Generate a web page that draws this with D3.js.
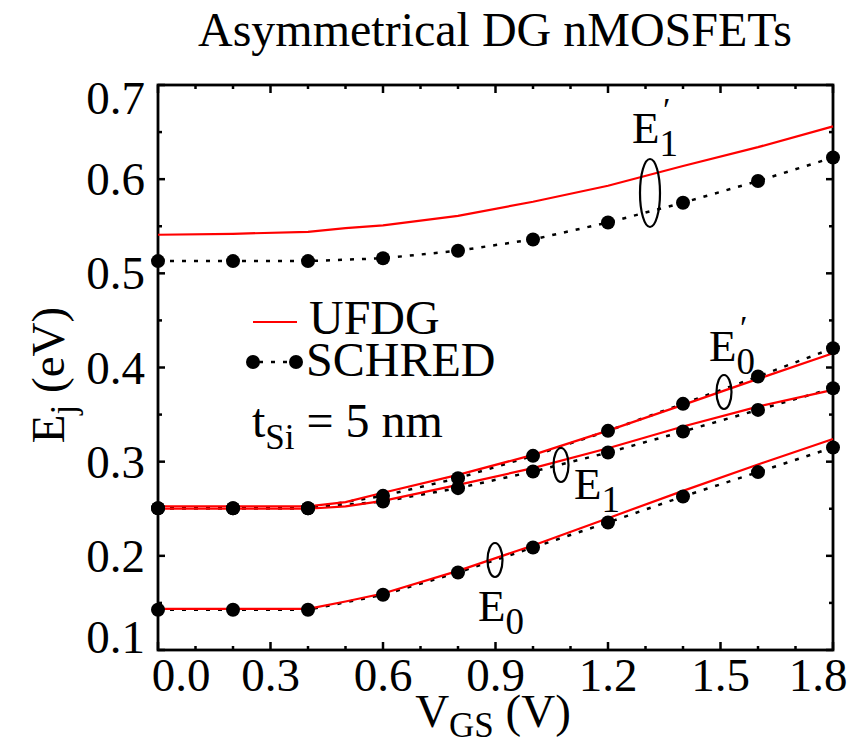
<!DOCTYPE html>
<html>
<head>
<meta charset="utf-8">
<script src="https://cdn.jsdelivr.net/npm/d3@7"></script>
<style>
  html, body { margin: 0; padding: 0; background: #fff; }
  svg text { font-family: "Liberation Serif", "Times New Roman", serif; fill: #000; }
</style>
</head>
<body>
<svg id="chart" width="863" height="747"></svg>
<script>
// Gate voltage sweep (V)
const vgsSchred = [0.0, 0.2, 0.4, 0.6, 0.8, 1.0, 1.2, 1.4, 1.6, 1.8];
const vgsUfdg   = [0.0, 0.2, 0.4, 0.5, 0.6, 0.8, 1.0, 1.2, 1.4, 1.6, 1.8];

// SCHRED subband energies (eV)
const schredE0  = [0.1427, 0.1427, 0.1427, 0.1586, 0.1823, 0.2089, 0.2354, 0.263, 0.2889, 0.315];
const schredE1  = [0.2506, 0.2506, 0.2506, 0.2577, 0.2719, 0.2895, 0.3097, 0.332, 0.355, 0.378];
const schredE0p = [0.2506, 0.2506, 0.2506, 0.2637, 0.2825, 0.3062, 0.3327, 0.3614, 0.3904, 0.4205];
const schredE1p = [0.513, 0.513, 0.513, 0.516, 0.524, 0.536, 0.554, 0.575, 0.598, 0.623];

// UFDG model subband energies (eV)
const ufdgE0  = [0.1437, 0.1437, 0.1437, 0.1515, 0.160, 0.184, 0.211, 0.240, 0.269, 0.297, 0.324];
const ufdgE1  = [0.250, 0.250, 0.250, 0.2525, 0.2584, 0.2754, 0.2931, 0.3143, 0.3373, 0.3585, 0.3762];
const ufdgE0p = [0.2525, 0.2525, 0.2525, 0.257, 0.267, 0.286, 0.3072, 0.333, 0.3603, 0.3879, 0.4152];
const ufdgE1p = [0.541, 0.542, 0.544, 0.548, 0.551, 0.561, 0.576, 0.593, 0.614, 0.634, 0.656];

const xTickLabels = ["0.0", "0.3", "0.6", "0.9", "1.2", "1.5", "1.8"];
const yTickLabels = ["0.1", "0.2", "0.3", "0.4", "0.5", "0.6", "0.7"];

const svg = d3.select("#chart");
const L = 158, R = 833, T = 85, B = 650;

const x = d3.scaleLinear().domain([0, 1.8]).range([L, R]);
const y = d3.scaleLinear().domain([0.1, 0.7]).range([B, T]);

// Title
svg.append("text").attr("x", 495).attr("y", 46).attr("text-anchor", "middle")
  .attr("font-size", 48).text("Asymmetrical DG nMOSFETs");

// Ticks (all pointing inward)
const xTicks = d3.range(0, 19).map(i => i / 10);
const yTicks = d3.range(2, 15).map(i => i / 20);
const isXMajor = v => Math.abs(Math.round(v * 10) % 3) === 0;
const isYMajor = v => Math.abs(Math.round(v * 20) % 2) === 0;

const tickG = svg.append("g").attr("stroke", "#000").attr("stroke-width", 2.5);
xTicks.forEach(v => {
  const len = isXMajor(v) ? 8 : 4;
  tickG.append("line").attr("x1", x(v)).attr("x2", x(v)).attr("y1", B).attr("y2", B - len);
  tickG.append("line").attr("x1", x(v)).attr("x2", x(v)).attr("y1", T).attr("y2", T + len);
});
yTicks.forEach(v => {
  const len = isYMajor(v) ? 7 : 4;
  tickG.append("line").attr("y1", y(v)).attr("y2", y(v)).attr("x1", L).attr("x2", L + len);
  tickG.append("line").attr("y1", y(v)).attr("y2", y(v)).attr("x1", R).attr("x2", R - len);
});

// Frame
svg.append("rect").attr("x", L).attr("y", T).attr("width", R - L).attr("height", B - T)
  .attr("fill", "none").attr("stroke", "#000").attr("stroke-width", 2.8);

// Tick labels
xTickLabels.forEach((s, i) => {
  const v = +s;
  let px = x(v);
  if (i === 0) px += 23;
  if (i === xTickLabels.length - 1) px -= 15;
  svg.append("text").attr("x", px).attr("y", 691).attr("text-anchor", "middle")
    .attr("font-size", 47).text(s);
});
yTickLabels.forEach((s, i) => {
  const v = +s;
  let py = y(v) + 16;
  if (i === 0) py -= 13;
  if (i === yTickLabels.length - 1) py += 13;
  svg.append("text").attr("x", 145).attr("y", py).attr("text-anchor", "end")
    .attr("font-size", 47).text(s);
});

// Axis titles
const yl = svg.append("text").attr("transform", "translate(64,375) rotate(-90)")
  .attr("text-anchor", "middle").attr("font-size", 47);
yl.append("tspan").text("E");
yl.append("tspan").attr("font-size", 35).attr("dy", 11).text("j");
yl.append("tspan").attr("dy", -11).text(" (eV)");

const xl = svg.append("text").attr("x", 493).attr("y", 727)
  .attr("text-anchor", "middle").attr("font-size", 47);
xl.append("tspan").text("V");
xl.append("tspan").attr("font-size", 35).attr("dy", 10).text("GS");
xl.append("tspan").attr("dy", -10).text(" (V)");

// Curves
const line = d3.line().x(d => x(d[0])).y(d => y(d[1]));
const schred = [schredE0, schredE1, schredE0p, schredE1p];
const ufdg = [ufdgE0, ufdgE1, ufdgE0p, ufdgE1p];

schred.forEach(s => {
  svg.append("path").datum(vgsSchred.map((v, i) => [v, s[i]]))
    .attr("d", line).attr("fill", "none").attr("stroke", "#000")
    .attr("stroke-width", 2.5).attr("stroke-dasharray", "4,8");
});
ufdg.forEach(s => {
  svg.append("path").datum(vgsUfdg.map((v, i) => [v, s[i]]))
    .attr("d", line).attr("fill", "none").attr("stroke", "#ff0000")
    .attr("stroke-width", 2.2);
});
schred.forEach(s => {
  svg.append("g").selectAll("circle").data(vgsSchred.map((v, i) => [v, s[i]]))
    .join("circle").attr("cx", d => x(d[0])).attr("cy", d => y(d[1]))
    .attr("r", 7).attr("fill", "#000");
});

// Subband markers (ellipses) and labels
const ell = (cx, cy, rx, ry) => svg.append("ellipse").attr("cx", cx).attr("cy", cy)
  .attr("rx", rx).attr("ry", ry).attr("fill", "none").attr("stroke", "#000").attr("stroke-width", 2.2);
ell(650, 193, 10, 34);
ell(724, 392, 7.5, 17);
ell(561, 465, 7.5, 17);
ell(495, 560, 7.5, 17);

function subLabel(px, py, sub, prime) {
  const t = svg.append("text").attr("x", px).attr("y", py).attr("font-size", 45);
  t.append("tspan").text("E");
  t.append("tspan").attr("font-size", 37).attr("dy", 13).text(sub);
  if (prime) {
    t.append("tspan").attr("font-size", 34).attr("dx", -15).attr("dy", -35).text("\u2032");
  }
}
subLabel(632, 143, "1", true);
subLabel(709, 361, "0", true);
subLabel(574, 499, "1", false);
subLabel(478, 621, "0", false);

// Legend
svg.append("line").attr("x1", 253).attr("x2", 297).attr("y1", 322).attr("y2", 322)
  .attr("stroke", "#ff0000").attr("stroke-width", 2.2);
svg.append("text").attr("x", 309).attr("y", 334).attr("font-size", 48).text("UFDG");
svg.append("line").attr("x1", 253).attr("x2", 296).attr("y1", 362).attr("y2", 362)
  .attr("stroke", "#000").attr("stroke-width", 2.5).attr("stroke-dasharray", "4,8")
  .attr("stroke-dashoffset", -6);
[253, 296].forEach(cx => svg.append("circle").attr("cx", cx).attr("cy", 362).attr("r", 7).attr("fill", "#000"));
svg.append("text").attr("x", 306).attr("y", 376).attr("font-size", 48).text("SCHRED");

const ts = svg.append("text").attr("x", 252).attr("y", 437).attr("font-size", 48);
ts.append("tspan").text("t");
ts.append("tspan").attr("font-size", 35).attr("dy", 12).text("Si");
ts.append("tspan").attr("dy", -12).text(" = 5 nm");
</script>
</body>
</html>
